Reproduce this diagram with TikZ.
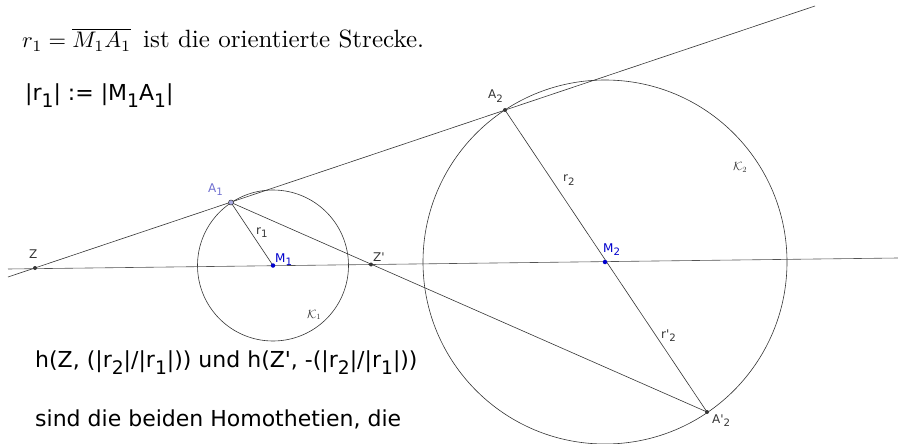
\documentclass[tikz,border=0pt]{standalone}
\usepackage{fontspec}
\usepackage{graphicx}
\newfontfamily\dv{DejaVu Sans}
\definecolor{ln}{HTML}{353535}
\definecolor{ptblue}{HTML}{0000CC}
\definecolor{aone}{HTML}{7070D0}
\newcommand\lsub[1]{\raisebox{-0.32em}{\scalebox{0.85}{#1}}}
\tikzset{
  geo/.style={draw=ln, line width=0.6pt},
  darkdot/.style={circle, fill=ln, inner sep=0pt, minimum size=4pt},
  bluedot/.style={circle, fill=ptblue, inner sep=0pt, minimum size=4.5pt},
  adot/.style={circle, fill=aone!60, draw=ln, line width=0.5pt, inner sep=0pt, minimum size=5pt},
  lbl/.style={anchor=base west, inner sep=0pt, font=\dv\fontsize{12}{14}\selectfont, text=ln},
  bigtxt/.style={anchor=base west, inner sep=0pt, font=\dv\fontsize{22}{26}\selectfont},
}
\begin{document}
\begin{tikzpicture}[x=1pt,y=-1pt]
\useasboundingbox (0,0) rectangle (898,444);
% points
\coordinate (Z) at (35,268);
\coordinate (Zp) at (371,264.5);
\coordinate (M1) at (273,265.5);
\coordinate (A1) at (231,202.5);
\coordinate (M2) at (605,262);
\coordinate (A2) at (505,110);
\coordinate (A2p) at (707,412);
\coordinate (Ls) at (8,277);
\coordinate (Le) at (815,6);
\coordinate (Cs) at (8,269);
\coordinate (Ce) at (898,258);
% circles
\draw[geo] (M1) circle[radius=75.5pt];
\draw[geo] (M2) circle[radius=182pt];
% lines
\draw[geo] (Ls) -- (Le);
\draw[geo, draw=ln!85] (Cs) -- (Ce);
\draw[geo] (A1) -- (A2p);
\draw[geo] (A2) -- (A2p);
\draw[geo] (M1) -- (A1);
% dots
\node[darkdot] (dZ) at (Z) {};
\node[darkdot] (dZp) at (Zp) {};
\node[darkdot] (dA2) at (A2) {};
\node[darkdot] (dA2p) at (A2p) {};
\node[bluedot] (dM1) at (M1) {};
\node[bluedot] (dM2) at (M2) {};
\node[adot] (dA1) at (A1) {};
% labels
\node[lbl] (tZ) at (29,258) {Z};
\node[lbl] (tZp) at (373,261) {Z'};
\node[lbl, text=aone] (tA1) at (208,192) {A\lsub{1}};
\node[lbl] (tr1) at (256,234) {r\lsub{1}};
\node[lbl, text=ptblue] (tM1) at (275,262) {M\lsub{1}};
\node[lbl] at (307,318) (tK1) {$\mathcal{K}_1$};
\node[lbl] (tA2) at (488,99) {A\lsub{2}};
\node[lbl] (tr2) at (563,182) {r\lsub{2}};
\node[lbl, text=ptblue] (tM2) at (603,252) {M\lsub{2}};
\node[lbl] (tK2) at (733,171) {$\mathcal{K}_2$};
\node[lbl] (tr2p) at (661,338) {r'\lsub{2}};
\node[lbl] (tA2p) at (712,423) {A'\lsub{2}};
% texts
\node[anchor=base west, inner sep=0pt] (t1m) at (22,48)
  {\scalebox{2.25}{$r_1=\overline{M_1A_1}$}};
\node[anchor=base west, inner sep=0pt] (t1t) at (143,48)
  {\scalebox{2.5}{ist die orientierte Strecke.}};
\node[bigtxt] (t2) at (25,100) {|r\lsub{1}| := |M\lsub{1}A\lsub{1}|};
\node[bigtxt] (t3) at (35,367) {h(Z, (|r\lsub{2}|/|r\lsub{1}|)) und h(Z', -(|r\lsub{2}|/|r\lsub{1}|))};
\node[bigtxt] (t4) at (35,426) {sind die beiden Homothetien, die};
\end{tikzpicture}
\end{document}
